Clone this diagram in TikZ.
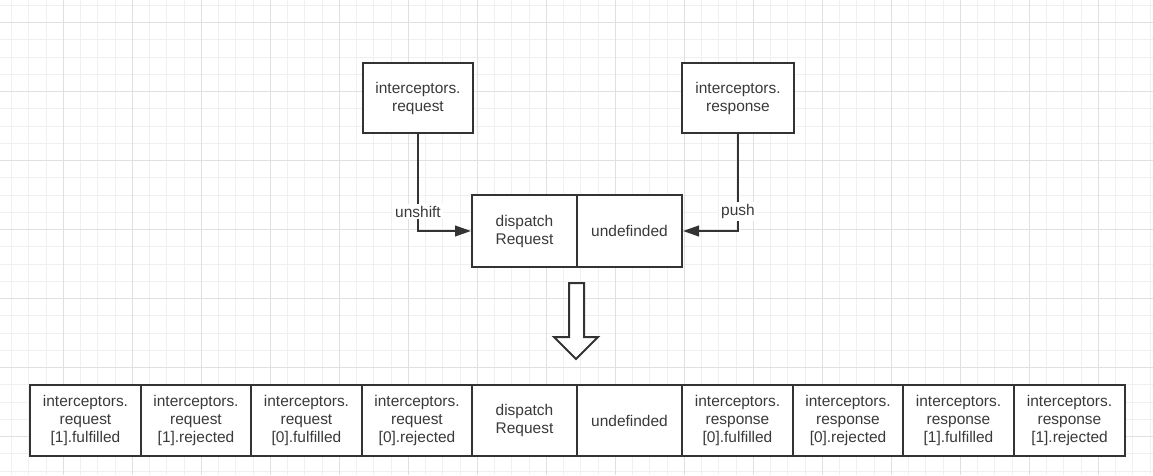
\documentclass[tikz,border=0pt]{standalone}
\usepackage{fontspec}
\setmainfont{Liberation Sans}
\usetikzlibrary{arrows.meta}
\definecolor{ink}{HTML}{333333}
\definecolor{txt}{HTML}{3A3A3A}
\definecolor{gridminor}{HTML}{F0F0F0}
\definecolor{gridmajor}{HTML}{E0E0E0}
\newcommand{\cellbox}[6]{%
  \node[cell, minimum width={(#3-#2)*0.75pt}, minimum height={(#5-#4)*0.75pt}]
    (#1) at ({(#2+#3)/2},{(#4+#5)/2}) {#6};}
\begin{document}
\begin{tikzpicture}[x=0.75pt,y=-0.75pt,
  cell/.style={draw=ink, line width=1.5pt, fill=white, inner sep=0pt,
    align=center, text=txt, font=\fontsize{11.6pt}{13.5pt}\selectfont},
  conn/.style={draw=ink, line width=1.5pt, -{Triangle[length=12pt,width=8pt]}},
  lab/.style={fill=white, inner sep=1.5pt, text=txt,
    font=\fontsize{11.6pt}{13.5pt}\selectfont},
  bigarrow/.style={draw=ink, line width=1.5pt, fill=white, line join=miter}]
\useasboundingbox (0,0) rectangle (1153,475);
\fill[white] (0,0) rectangle (1153,475);
% grid
\foreach \i in {-3,...,63} \draw[gridminor, line width=0.75pt] ({63.3+17.25*\i},0) -- ({63.3+17.25*\i},475);
\foreach \j in {-1,...,26} \draw[gridminor, line width=0.75pt] (0,{22.7+17.25*\j}) -- (1153,{22.7+17.25*\j});
\foreach \i in {-1,...,16} \draw[gridmajor, line width=0.75pt] ({63.3+69*\i},0) -- ({63.3+69*\i},475);
\foreach \j in {0,...,6} \draw[gridmajor, line width=0.75pt] (0,{22.7+69*\j}) -- (1153,{22.7+69*\j});
% top boxes
\cellbox{req}{363}{473}{63}{133}{interceptors.\\request}
\cellbox{resp}{682}{794}{63}{133}{interceptors.\\response}
% middle
\cellbox{disp}{472}{577}{195}{267}{dispatch\\Request}
\cellbox{undef}{577}{682}{195}{267}{undefinded}
% connectors
\draw[conn] (req.south) |- node[lab, pos=0.4]{unshift} (disp.west);
\draw[conn] (resp.south) |- node[lab, pos=0.4]{push} (undef.east);
% hollow arrow
\draw[bigarrow] (569,283) -- (584,283) -- (584,337) -- (598,337) -- (576,359)
  -- (554,337) -- (569,337) -- cycle;
% bottom row
\cellbox{b1}{30}{141}{385}{456}{interceptors.\\request\\{[1]}.fulfilled}
\cellbox{b2}{141}{251}{385}{456}{interceptors.\\request\\{[1]}.rejected}
\cellbox{b3}{251}{362}{385}{456}{interceptors.\\request\\{[0]}.fulfilled}
\cellbox{b4}{362}{472}{385}{456}{interceptors.\\request\\{[0]}.rejected}
\cellbox{b5}{472}{577}{385}{456}{dispatch\\Request}
\cellbox{b6}{577}{682}{385}{456}{undefinded}
\cellbox{b7}{682}{793}{385}{456}{interceptors.\\response\\{[0]}.fulfilled}
\cellbox{b8}{793}{903}{385}{456}{interceptors.\\response\\{[0]}.rejected}
\cellbox{b9}{903}{1014}{385}{456}{interceptors.\\response\\{[1]}.fulfilled}
\cellbox{b10}{1014}{1125}{385}{456}{interceptors.\\response\\{[1]}.rejected}
\end{tikzpicture}
\end{document}
